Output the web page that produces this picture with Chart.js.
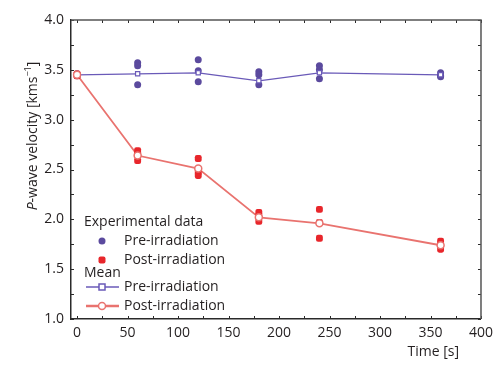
<!DOCTYPE html>
<html>
<head>
<meta charset="utf-8">
<script src="https://cdn.jsdelivr.net/npm/chart.js@4"></script>
<style>
  html, body { margin: 0; padding: 0; background: #fff; }
  #wrap { width: 499px; height: 365px; }
</style>
</head>
<body>
<div id="wrap"><canvas id="c" width="499" height="365"></canvas></div>
<script>
// 측정 시간 (s)
const times = [0, 60, 120, 180, 240, 360];
// 개별 측정값 (km/s)
const preRuns = [
  [3.45, 3.46, 3.44],
  [3.57, 3.54, 3.35],
  [3.60, 3.49, 3.38],
  [3.48, 3.45, 3.35],
  [3.54, 3.50, 3.41],
  [3.47, 3.44, 3.43]
];
const postRuns = [
  [3.45, 3.46, 3.44],
  [2.69, 2.66, 2.59],
  [2.61, 2.47, 2.44],
  [2.07, 2.04, 1.98],
  [2.10, 1.97, 1.81],
  [1.78, 1.75, 1.70]
];
// 평균값
const preMean = [3.45, 3.46, 3.47, 3.39, 3.47, 3.45];
const postMean = [3.45, 2.64, 2.51, 2.02, 1.96, 1.74];
// 눈금
const xTicks = [0, 25, 50, 75, 100, 125, 150, 175, 200, 225, 250, 275, 300, 325, 350, 375, 400];
const yTicks = [1.0, 1.25, 1.5, 1.75, 2.0, 2.25, 2.5, 2.75, 3.0, 3.25, 3.5, 3.75, 4.0];

const FONT = '"Open Sans", "Noto Sans", sans-serif';
const TXT = '#231f20';
const PRE_PT = '#5b4a9e';
const PRE_LN = '#6a5ab8';
const POST_PT = '#e8262b';
const POST_LN = '#e9736f';

function flatten(runs) {
  const out = [];
  runs.forEach((vals, i) => vals.forEach(v => out.push({ x: times[i], y: v })));
  return out;
}
function pairs(vals) {
  return vals.map((v, i) => ({ x: times[i], y: v }));
}

// 안쪽 방향 눈금 + 위/오른쪽 테두리
const innerTicks = {
  id: 'innerTicks',
  afterDraw(chart) {
    const { ctx, chartArea: a, scales: { x, y } } = chart;
    ctx.save();
    ctx.strokeStyle = '#2a2a2a';
    ctx.lineWidth = 1;
    x.ticks.forEach(t => {
      const px = Math.round(x.getPixelForValue(t.value)) + 0.5;
      ctx.beginPath();
      ctx.moveTo(px, a.bottom); ctx.lineTo(px, a.bottom - 3);
      ctx.moveTo(px, a.top); ctx.lineTo(px, a.top + 3);
      ctx.stroke();
    });
    y.ticks.forEach(t => {
      const py = Math.round(y.getPixelForValue(t.value)) + 0.5;
      ctx.beginPath();
      ctx.moveTo(a.left, py); ctx.lineTo(a.left + 3, py);
      ctx.moveTo(a.right, py); ctx.lineTo(a.right - 3, py);
      ctx.stroke();
    });
    ctx.lineWidth = 1.5;
    ctx.strokeStyle = '#555';
    ctx.beginPath();
    ctx.moveTo(a.left, a.top); ctx.lineTo(a.right, a.top); ctx.lineTo(a.right, a.bottom);
    ctx.stroke();
    ctx.restore();
  }
};

// 범례와 축 제목
const annotations = {
  id: 'annotations',
  afterDraw(chart) {
    const ctx = chart.ctx;
    ctx.save();
    ctx.fillStyle = TXT;
    ctx.textBaseline = 'middle';
    ctx.font = '14px ' + FONT;
    ctx.fillText('Experimental data', 84, 222);
    ctx.fillText('Pre-irradiation', 124, 241);
    ctx.fillText('Post-irradiation', 124, 260);
    ctx.fillText('Mean', 84, 273);
    ctx.fillText('Pre-irradiation', 124, 287);
    ctx.fillText('Post-irradiation', 124, 306);

    // x축 제목
    ctx.textAlign = 'right';
    ctx.fillText('Time [s]', 459, 352);
    ctx.textAlign = 'left';

    // 마커
    ctx.fillStyle = PRE_PT;
    ctx.beginPath(); ctx.arc(102, 241, 3.5, 0, Math.PI * 2); ctx.fill();
    ctx.fillStyle = POST_PT;
    ctx.beginPath(); ctx.roundRect(98.5, 256.5, 7, 7, 2); ctx.fill();

    ctx.strokeStyle = PRE_LN; ctx.lineWidth = 1.5;
    ctx.beginPath(); ctx.moveTo(86, 287); ctx.lineTo(119, 287); ctx.stroke();
    ctx.fillStyle = '#fff';
    ctx.fillRect(99, 284, 6, 6); ctx.strokeRect(99, 284, 6, 6);

    ctx.strokeStyle = POST_LN; ctx.lineWidth = 2.5;
    ctx.beginPath(); ctx.moveTo(86, 306); ctx.lineTo(119, 306); ctx.stroke();
    ctx.lineWidth = 1.5;
    ctx.beginPath(); ctx.arc(102, 306, 3.5, 0, Math.PI * 2); ctx.fill(); ctx.stroke();

    // y축 제목
    ctx.translate(33, 136);
    ctx.rotate(-Math.PI / 2);
    ctx.fillStyle = TXT;
    ctx.textBaseline = 'middle';
    const parts = [
      { t: 'P', f: 'italic 14px ' + FONT, dy: 0 },
      { t: '-wave velocity [kms', f: '14px ' + FONT, dy: 0 },
      { t: '\u22121', f: '9px ' + FONT, dy: -5 },
      { t: ']', f: '14px ' + FONT, dy: 0 }
    ];
    let total = 0;
    parts.forEach(p => { ctx.font = p.f; p.w = ctx.measureText(p.t).width; total += p.w; });
    let cx = -total / 2;
    parts.forEach(p => { ctx.font = p.f; ctx.fillText(p.t, cx, p.dy); cx += p.w; });
    ctx.restore();
  }
};

const ctx = document.getElementById('c').getContext('2d');
new Chart(ctx, {
  type: 'scatter',
  data: {
    datasets: [
      { label: 'Mean pre line', data: pairs(preMean), showLine: true, borderColor: PRE_LN, borderWidth: 1.2, pointRadius: 0, order: 6 },
      { label: 'Mean post line', data: pairs(postMean), showLine: true, borderColor: POST_LN, borderWidth: 1.8, pointRadius: 0, order: 5 },
      { label: 'Pre-irradiation', data: flatten(preRuns), pointStyle: 'circle', pointRadius: 3.5, backgroundColor: PRE_PT, borderWidth: 0, order: 4 },
      { label: 'Post-irradiation', data: flatten(postRuns), pointStyle: 'rectRounded', pointRadius: 4, backgroundColor: POST_PT, borderWidth: 0, order: 3 },
      { label: 'Mean pre', data: pairs(preMean), pointStyle: 'rect', pointRadius: 3, backgroundColor: '#fff', borderColor: PRE_LN, borderWidth: 1.2, order: 2 },
      { label: 'Mean post', data: pairs(postMean), pointStyle: 'circle', pointRadius: 3.5, backgroundColor: '#fff', borderColor: POST_LN, borderWidth: 1.5, order: 1 }
    ]
  },
  options: {
    responsive: false,
    animation: false,
    layout: { padding: { top: 20, right: 13, left: 0, bottom: 0 } },
    plugins: { legend: { display: false }, tooltip: { enabled: false } },
    scales: {
      x: {
        type: 'linear', min: -6, max: 400,
        afterBuildTicks: s => { s.ticks = xTicks.map(v => ({ value: v })); },
        afterFit: s => { s.height = 46; },
        grid: { display: false, drawTicks: false },
        border: { display: true, color: '#2a2a2a', width: 1.5 },
        ticks: { autoSkip: false, maxRotation: 0, padding: 6, color: TXT, font: { family: FONT, size: 14 },
          callback: v => (v % 50 === 0 ? String(v) : '') }
      },
      y: {
        type: 'linear', min: 1, max: 4,
        afterBuildTicks: s => { s.ticks = yTicks.map(v => ({ value: v })); },
        afterFit: s => { s.width = 71; },
        grid: { display: false, drawTicks: false },
        border: { display: true, color: '#2a2a2a', width: 1.5 },
        ticks: { autoSkip: false, padding: 7, color: TXT, font: { family: FONT, size: 14 },
          callback: v => (Math.abs(v * 2 - Math.round(v * 2)) < 1e-6 ? v.toFixed(1) : '') }
      }
    }
  },
  plugins: [innerTicks, annotations]
});
</script>
</body>
</html>
